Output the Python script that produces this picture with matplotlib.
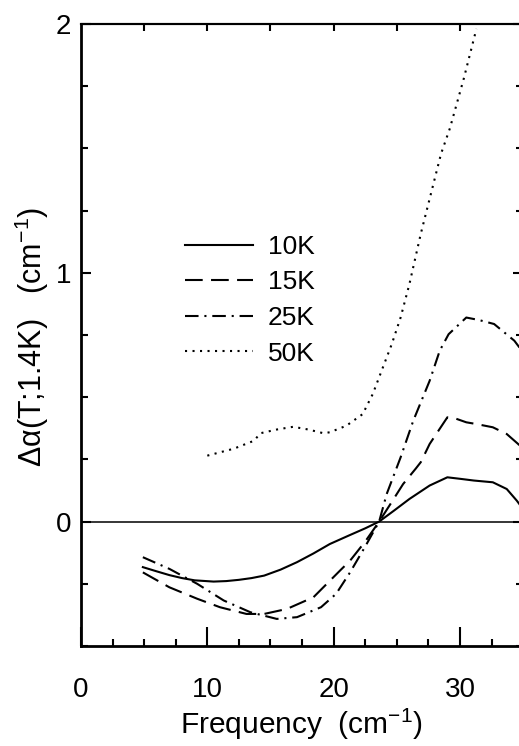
import numpy as np
import matplotlib
matplotlib.use("Agg")
import matplotlib.pyplot as plt
from matplotlib.ticker import MultipleLocator, NullFormatter

plt.rcParams['font.family'] = ['Liberation Sans', 'DejaVu Sans']
plt.rcParams['mathtext.default'] = 'regular'

# data
x10 = [4.9, 6.0, 7.0, 8.0, 9.0, 10.5, 11.5, 12.5, 13.5, 14.5, 15.8, 17.1, 18.4, 19.7, 21.2, 22.5, 23.6, 24.8, 26.0, 27.6, 29.0, 30.0, 31.1, 32.6, 33.7, 34.5, 35.0]
y10 = [-0.183, -0.2, -0.215, -0.227, -0.236, -0.241, -0.239, -0.234, -0.227, -0.217, -0.193, -0.163, -0.128, -0.09, -0.056, -0.027, 0.0, 0.045, 0.091, 0.145, 0.178, 0.172, 0.165, 0.158, 0.131, 0.084, 0.05]

x15 = [4.9, 7.0, 9.2, 11.0, 13.1, 14.5, 16.3, 18.4, 20.5, 21.3, 22.5, 23.6, 24.5, 25.5, 26.5, 26.9, 27.6, 29.0, 29.6, 30.5, 31.3, 32.6, 33.7, 34.6, 35.0]
y15 = [-0.204, -0.264, -0.31, -0.344, -0.371, -0.371, -0.351, -0.304, -0.197, -0.157, -0.08, 0.0, 0.071, 0.151, 0.213, 0.239, 0.312, 0.419, 0.415, 0.399, 0.392, 0.379, 0.352, 0.312, 0.29]

x25 = [4.9, 7.0, 9.2, 11.3, 13.4, 15.5, 17.1, 19.0, 20.2, 21.3, 22.5, 23.6, 24.2, 25.3, 26.3, 27.6, 28.4, 29.1, 30.5, 31.5, 32.7, 34.3, 35.0]
y25 = [-0.143, -0.19, -0.25, -0.317, -0.364, -0.391, -0.384, -0.344, -0.29, -0.204, -0.1, 0.0, 0.111, 0.258, 0.405, 0.566, 0.687, 0.753, 0.82, 0.81, 0.794, 0.727, 0.68]

x50 = [10.0, 12.1, 13.7, 14.2, 15.5, 16.8, 18.0, 19.2, 19.7, 21.0, 22.3, 23.1, 23.9, 24.6, 25.3, 26.0, 26.9, 28.5, 29.2, 30.3, 31.3]
y50 = [0.265, 0.293, 0.325, 0.355, 0.37, 0.381, 0.37, 0.355, 0.359, 0.385, 0.432, 0.513, 0.62, 0.713, 0.82, 0.955, 1.157, 1.478, 1.58, 1.78, 1.98]

labels = ['10K', '15K', '25K', '50K']

fig = plt.figure(figsize=(5.19, 7.46), dpi=100)
ax = fig.add_axes([0.156, 0.134, 0.852, 0.834])

lw = 1.5
ax.axhline(0, color='black', lw=1.1)
l1, = ax.plot(x10, y10, color='black', lw=lw, ls='-')
l2, = ax.plot(x15, y15, color='black', lw=lw, dashes=(8.5, 4.0))
l3, = ax.plot(x25, y25, color='black', lw=lw, dashes=(6.5, 2.8, 1.0, 2.8))
l4, = ax.plot(x50, y50, color='black', lw=lw, dashes=(1.0, 2.6))

ax.set_xlim(0, 35)
ax.set_ylim(-0.5, 2)

ax.xaxis.set_major_locator(MultipleLocator(10))
ax.xaxis.set_minor_locator(MultipleLocator(2.5))
ax.yaxis.set_major_locator(MultipleLocator(1))
ax.yaxis.set_minor_locator(MultipleLocator(0.25))

ax.tick_params(axis='x', which='major', direction='in', length=14, width=1.5,
               labelsize=20, pad=22, top=False)
ax.tick_params(axis='x', which='minor', direction='in', length=5, width=1.5, top=False)
ax.tick_params(axis='y', which='major', direction='in', length=7, width=1.5,
               labelsize=20, pad=7, right=True)
ax.tick_params(axis='y', which='minor', direction='in', length=5, width=1.5, right=True)

# top axis: plain ticks every 5, no labels
top = ax.secondary_xaxis('top')
top.set_xticks(np.arange(5, 35, 5))
top.xaxis.set_major_formatter(NullFormatter())
top.tick_params(direction='in', length=5, width=1.5)
top.spines['top'].set_linewidth(1.5)

for side, w in [('left', 2.0), ('bottom', 2.0), ('top', 1.5), ('right', 1.5)]:
    ax.spines[side].set_linewidth(w)

ax.set_xlabel('Frequency  (cm$^{-1}$)', fontsize=21.5)
ax.xaxis.set_label_coords(0.499, -0.097)
ax.set_ylabel('Δα(T;1.4K)   (cm$^{-1}$)', fontsize=22)
ax.yaxis.set_label_coords(-0.068, 0.497)

ax.legend([l1, l2, l3, l4], labels, loc='upper left', bbox_to_anchor=(0.2115, 0.678),
          frameon=False, fontsize=19, handlelength=2.58, handletextpad=0.55,
          labelspacing=0.44, borderaxespad=0)

fig.savefig('out.png', dpi=100)
